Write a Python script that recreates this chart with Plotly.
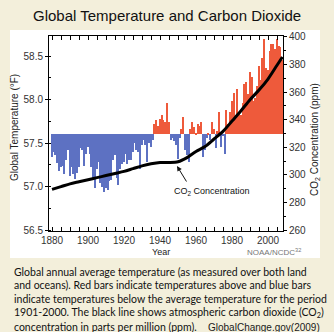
import plotly.graph_objects as go

# ---------------- data ----------------
years = list(range(1880, 2009))
temp_anomaly_f = [
    -0.26, -0.20, -0.24, -0.33, -0.42, -0.38, -0.36, -0.45, -0.30, -0.18,   # 1880s
    -0.48, -0.38, -0.46, -0.51, -0.44, -0.38, -0.16, -0.18, -0.36, -0.22,   # 1890s
    -0.14, -0.22, -0.38, -0.50, -0.62, -0.40, -0.32, -0.56, -0.60, -0.66,   # 1900s
    -0.62, -0.64, -0.54, -0.52, -0.30, -0.24, -0.50, -0.58, -0.40, -0.34,   # 1910s
    -0.32, -0.22, -0.34, -0.30, -0.30, -0.20, -0.10, -0.18, -0.20, -0.40,   # 1920s
    -0.12, -0.06, -0.12, -0.32, -0.10, -0.14, -0.06, 0.12, 0.16, 0.10,      # 1930s
    0.18, 0.22, 0.16, 0.14, 0.36, 0.14, -0.06, -0.04, -0.08, -0.12,         # 1940s
    -0.28, -0.04, 0.06, 0.20, -0.18, -0.24, -0.32, 0.06, 0.14, 0.08,        # 1950s
    0.02, 0.12, 0.10, 0.14, -0.26, -0.18, -0.04, 0.02, -0.06, 0.14,         # 1960s
    0.06, -0.16, 0.04, 0.26, -0.14, -0.02, -0.22, 0.28, 0.12, 0.26,         # 1970s
    0.38, 0.48, 0.22, 0.52, 0.24, 0.22, 0.36, 0.58, 0.60, 0.46,             # 1980s
    0.72, 0.66, 0.38, 0.42, 0.56, 0.78, 0.62, 0.88, 1.10, 0.76,             # 1990s
    0.74, 0.96, 1.04, 1.04, 0.98, 1.10, 1.02, 1.00, 0.86,                   # 2000s
]
baseline_f = 57.6

co2_years = [1880, 1885, 1890, 1895, 1900, 1905, 1910, 1915, 1920, 1925,
             1930, 1935, 1940, 1945, 1950, 1955, 1960, 1965, 1970, 1975,
             1980, 1985, 1990, 1995, 2000, 2005, 2008]
co2_ppm = [289.5, 291.5, 293.5, 295.0, 296.5, 298.0, 299.5, 301.0, 302.5, 304.5,
           306.5, 308.0, 309.0, 309.0, 309.5, 312.5, 317.0, 320.5, 326.0, 331.5,
           339.0, 346.5, 354.5, 361.5, 369.5, 379.5, 385.5]

temp_ticks = [56.5, 57.0, 57.5, 58.0, 58.5]
co2_ticks = [260, 280, 300, 320, 340, 360, 380, 400]
year_ticks = [1880, 1900, 1920, 1940, 1960, 1980, 2000]

caption_lines = [
    "Global annual average temperature (as measured over both land",
    "and oceans). Red bars indicate temperatures above and blue bars",
    "indicate temperatures below the average temperature for the period",
    "1901-2000. The black line shows atmospheric carbon dioxide (CO<sub>2</sub>)",
    "concentration in parts per million (ppm).",
]

# ---------------- geometry helpers (pixel -> paper) ----------------
W, H = 334, 332
L, R, T, B = 49, 283, 36, 231
pw, ph = R - L, B - T


def px(x):
    return (x - L) / pw


def py(y):
    return (B - y) / ph


RED = "#ee5a3b"
BLUE = "#5d71c2"
BEIGE = "#f3efdb"
AX = "Liberation Sans, Arial, sans-serif"

bar_colors = [RED if a > 0 else BLUE for a in temp_anomaly_f]

fig = go.Figure()
fig.add_trace(go.Bar(
    x=years, y=temp_anomaly_f, base=baseline_f,
    marker=dict(color=bar_colors, line=dict(width=0)),
    width=0.8, yaxis="y", showlegend=False, hoverinfo="skip",
))
fig.add_trace(go.Scatter(
    x=co2_years, y=co2_ppm, mode="lines", yaxis="y2",
    line=dict(color="black", width=3, shape="spline", smoothing=0.8),
    showlegend=False, hoverinfo="skip",
))

tickfont = dict(family=AX, size=10, color="#333333")

fig.update_layout(
    width=W, height=H,
    margin=dict(l=L, r=W - R, t=T, b=H - B, pad=0),
    paper_bgcolor=BEIGE, plot_bgcolor="white",
    bargap=0,
    xaxis=dict(
        range=[1878.33, 2008.33], tickvals=year_ticks,
        ticks="inside", ticklen=4, tickcolor="black",
        minor=dict(dtick=5, tick0=1880, ticks="inside", ticklen=2, tickcolor="black"),
        showline=True, linecolor="black", linewidth=1, mirror="allticks",
        showgrid=False, zeroline=False, tickfont=tickfont,
    ),
    yaxis=dict(
        range=[56.49, 58.73], tickvals=temp_ticks, tickformat=".1f",
        ticks="outside", ticklen=3, tickcolor="black",
        minor=dict(dtick=0.25, tick0=56.5, ticks="inside", ticklen=2, tickcolor="black"),
        showline=True, linecolor="black", linewidth=1,
        showgrid=False, zeroline=False, tickfont=tickfont,
    ),
    yaxis2=dict(
        range=[259.3, 400.7], tickvals=co2_ticks, overlaying="y", side="right",
        ticks="outside", ticklen=3, tickcolor="black",
        minor=dict(dtick=10, tick0=260, ticks="outside", ticklen=2, tickcolor="black"),
        showline=True, linecolor="black", linewidth=1,
        showgrid=False, zeroline=False, tickfont=tickfont,
    ),
)

# white panel behind the chart
fig.add_shape(type="rect", xref="paper", yref="paper",
              x0=px(10), x1=px(320), y0=py(258), y1=py(30),
              fillcolor="white", line=dict(width=0), layer="below")

ann = []
ann.append(dict(text="Global Temperature and Carbon Dioxide", x=px(167), y=py(16),
                font=dict(family=AX, size=15, color="#111111")))
ann.append(dict(text="Global Temperature (\u00b0F)", x=px(14), y=py(128), textangle=-90,
                font=dict(family=AX, size=10, color="#222222")))
ann.append(dict(text="CO<sub>2</sub> Concentration (ppm)", x=px(315), y=py(140), textangle=-90,
                font=dict(family=AX, size=10, color="#222222")))
ann.append(dict(text="Year", x=px(161), y=py(252),
                font=dict(family=AX, size=9, color="#222222")))
ann.append(dict(text="NOAA/NCDC<sup>32</sup>", x=px(274), y=py(252),
                font=dict(family=AX, size=8, color="#777777")))
ann.append(dict(text="CO<sub>2</sub> Concentration", x=px(212), y=py(191),
                font=dict(family=AX, size=9, color="#111111")))
# arrow
ann.append(dict(text=" ", x=px(177), y=py(166), showarrow=True, ax=11, ay=18,
                axref="pixel", ayref="pixel", arrowhead=2, arrowsize=1, arrowwidth=1,
                arrowcolor="#111111", standoff=0, startstandoff=0,
                font=dict(family=AX, size=2, color="#111111")))

for i, line in enumerate(caption_lines):
    yline = 271.7 + i * 13.75
    ann.append(dict(text=line, x=px(12), y=py(yline), xanchor="left",
                    font=dict(family="Lato, sans-serif", size=10.5, color="#111111")))
ann.append(dict(text="GlobalChange.gov(2009)", x=px(322), y=py(327), xanchor="right",
                font=dict(family=AX, size=10, color="#1a1a1a")))

for a in ann:
    a.setdefault("xref", "paper")
    a.setdefault("yref", "paper")
    a.setdefault("showarrow", False)
    a.setdefault("xanchor", "center")
    a.setdefault("yanchor", "middle")
    fig.add_annotation(**a)

fig.write_html("out.html")
